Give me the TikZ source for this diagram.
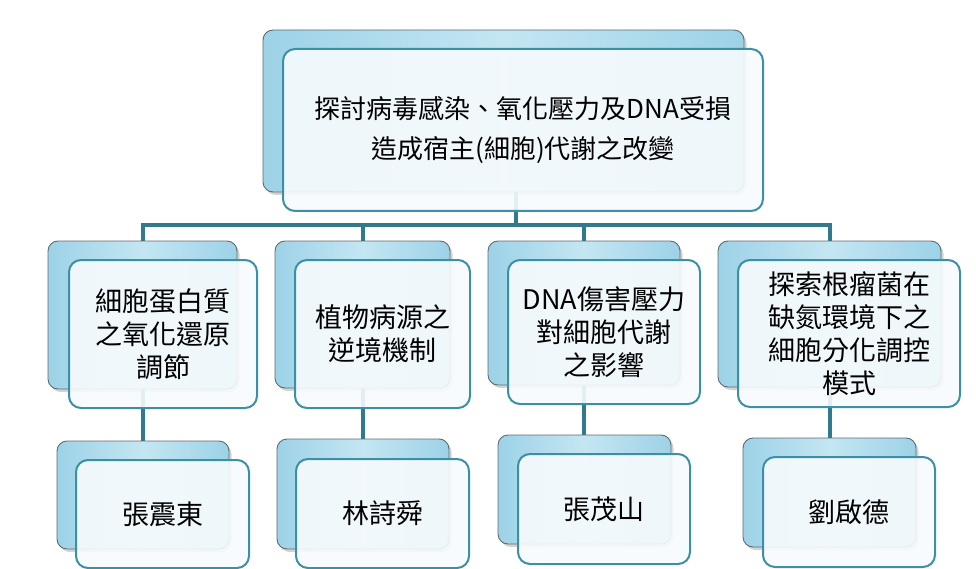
\documentclass[tikz,border=0pt]{standalone}
\usepackage{fontspec}
\newfontfamily\cjk{Noto Sans CJK TC}
\usetikzlibrary{shadows}
\pgfdeclarelayer{bg}
\pgfsetlayers{bg,main}
\definecolor{backL}{HTML}{9DD2E7}
\definecolor{backM}{HTML}{C4E6F2}
\definecolor{frontedge}{HTML}{3C90A5}
\definecolor{conncol}{HTML}{2F7B8D}
\definecolor{backedge}{HTML}{5F6B70}
\definecolor{frontfill}{HTML}{F7FBFD}
\tikzset{
  backbox/.style={draw=backedge, line width=0.9pt, rounded corners=10pt,
    left color=backL, right color=backL, middle color=backM,
    drop shadow={shadow xshift=2.5pt, shadow yshift=-3pt, opacity=0.35},
    inner sep=0pt, outer sep=0pt, anchor=north west},
  frontbox/.style={draw=frontedge, line width=2pt, rounded corners=12pt,
    fill=frontfill, fill opacity=0.9, text opacity=1, inner sep=0pt,
    anchor=north west, align=center, font=\cjk\fontsize{27}{33}\selectfont},
  connline/.style={draw=conncol, line width=4pt},
}
\begin{document}
\begin{tikzpicture}[x=1pt,y=-1pt]
\useasboundingbox (0,0) rectangle (976,569);
% top
\node[backbox, minimum width=481pt, minimum height=162pt] (tback) at (263,30) {};
\node[frontbox, minimum width=480pt, minimum height=162pt, font=\cjk\fontsize{26}{40}\selectfont] (tfront) at (282,48)
  {探討病毒感染、氧化壓力及DNA受損\\造成宿主(細胞)代謝之改變};
% level 2
\node[backbox, minimum width=189pt, minimum height=148pt] (b1) at (48,241) {};
\node[frontbox, minimum width=188pt, minimum height=148pt] (f1) at (68,259) {細胞蛋白質\\之氧化還原\\調節};
\node[backbox, minimum width=175pt, minimum height=147pt] (b2) at (275,241) {};
\node[frontbox, minimum width=175pt, minimum height=148pt] (f2) at (294,259) {植物病源之\\逆境機制};
\node[backbox, minimum width=192pt, minimum height=144pt] (b3) at (488,241) {};
\node[frontbox, minimum width=192pt, minimum height=144pt] (f3) at (507,259) {DNA傷害壓力\\對細胞代謝\\之影響};
\node[backbox, minimum width=223pt, minimum height=146pt] (b4) at (718,241) {};
\node[frontbox, minimum width=222pt, minimum height=147pt] (f4) at (737,259) {探索根瘤菌在\\缺氮環境下之\\細胞分化調控\\模式};
% level 3
\node[backbox, minimum width=172pt, minimum height=108pt] (c1) at (57,441) {};
\node[frontbox, minimum width=173pt, minimum height=108pt] (g1) at (75,459) {張震東};
\node[backbox, minimum width=172pt, minimum height=110pt] (c2) at (277,439) {};
\node[frontbox, minimum width=173pt, minimum height=109pt] (g2) at (295,458) {林詩舜};
\node[backbox, minimum width=173pt, minimum height=109pt] (c3) at (498,435) {};
\node[frontbox, minimum width=172pt, minimum height=110pt] (g3) at (517,453) {張茂山};
\node[backbox, minimum width=173pt, minimum height=109pt] (c4) at (743,438) {};
\node[frontbox, minimum width=172pt, minimum height=110pt] (g4) at (762,456) {劉啟德};
% connectors
\coordinate (j0) at (516,225);
\begin{pgfonlayer}{bg}
\draw[connline] (j0 |- tback.center) -- (j0);
\draw[connline] (b1.north) -- (b1.north |- j0) -- (b4.north |- j0) -- (b4.north);
\draw[connline] (b2.north |- j0) -- (b2.north);
\draw[connline] (b3.north |- j0) -- (b3.north);
\draw[connline] (b1.center) -- (c1.north -| b1.center);
\draw[connline] (b2.center) -- (c2.north -| b2.center);
\draw[connline] (b3.center) -- (c3.north -| b3.center);
\draw[connline] (b4.center) -- (c4.north -| b4.center);
\end{pgfonlayer}
\end{tikzpicture}
\end{document}
